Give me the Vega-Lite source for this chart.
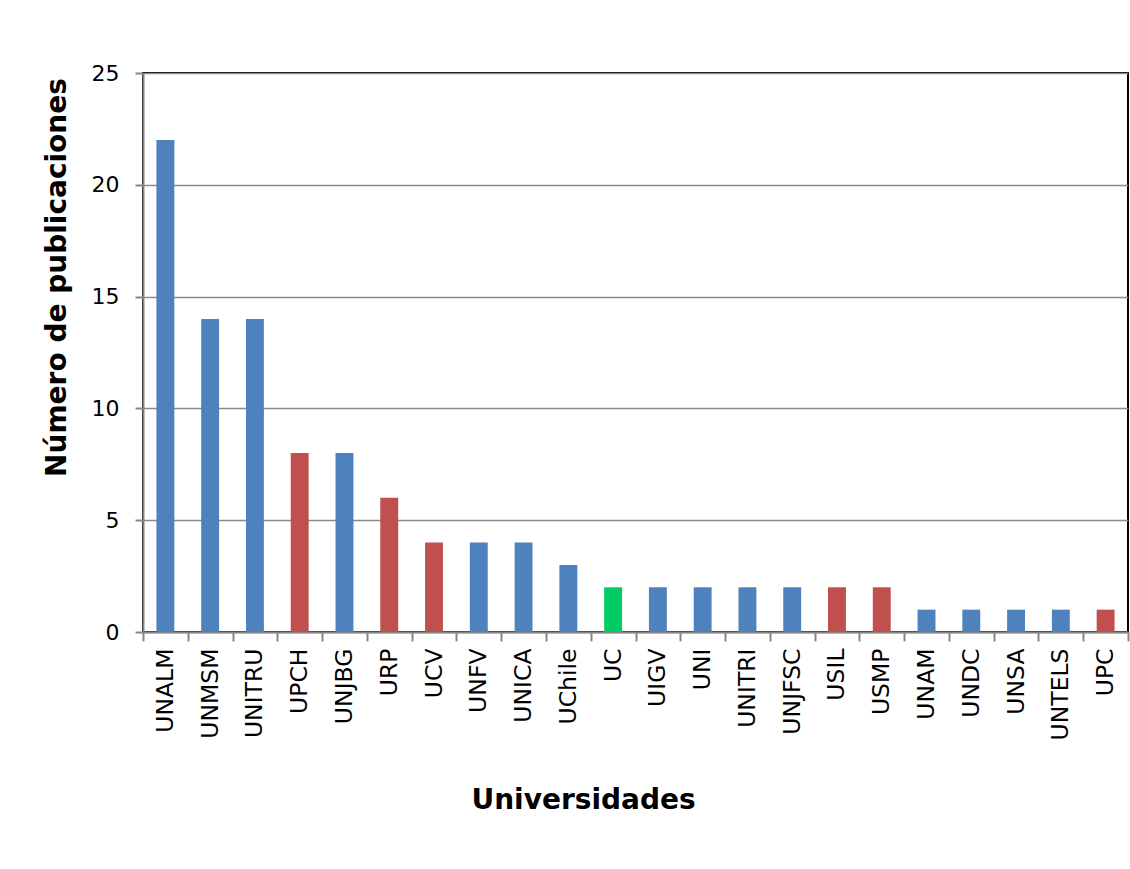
{
  "$schema": "https://vega.github.io/schema/vega-lite/v6.json",
  "autosize": "none",
  "width": 985,
  "height": 559,
  "padding": {"left": 143, "top": 73, "right": 2, "bottom": 237},
  "background": "white",
  "data": {
    "values": [
      {"universidad": "UNALM", "publicaciones": 22, "grupo": "A"},
      {"universidad": "UNMSM", "publicaciones": 14, "grupo": "A"},
      {"universidad": "UNITRU", "publicaciones": 14, "grupo": "A"},
      {"universidad": "UPCH", "publicaciones": 8, "grupo": "B"},
      {"universidad": "UNJBG", "publicaciones": 8, "grupo": "A"},
      {"universidad": "URP", "publicaciones": 6, "grupo": "B"},
      {"universidad": "UCV", "publicaciones": 4, "grupo": "B"},
      {"universidad": "UNFV", "publicaciones": 4, "grupo": "A"},
      {"universidad": "UNICA", "publicaciones": 4, "grupo": "A"},
      {"universidad": "UChile", "publicaciones": 3, "grupo": "A"},
      {"universidad": "UC", "publicaciones": 2, "grupo": "C"},
      {"universidad": "UIGV", "publicaciones": 2, "grupo": "A"},
      {"universidad": "UNI", "publicaciones": 2, "grupo": "A"},
      {"universidad": "UNITRI", "publicaciones": 2, "grupo": "A"},
      {"universidad": "UNJFSC", "publicaciones": 2, "grupo": "A"},
      {"universidad": "USIL", "publicaciones": 2, "grupo": "B"},
      {"universidad": "USMP", "publicaciones": 2, "grupo": "B"},
      {"universidad": "UNAM", "publicaciones": 1, "grupo": "A"},
      {"universidad": "UNDC", "publicaciones": 1, "grupo": "A"},
      {"universidad": "UNSA", "publicaciones": 1, "grupo": "A"},
      {"universidad": "UNTELS", "publicaciones": 1, "grupo": "A"},
      {"universidad": "UPC", "publicaciones": 1, "grupo": "B"}
    ]
  },
  "mark": {"type": "bar", "width": {"band": 0.4}},
  "encoding": {
    "x": {
      "field": "universidad",
      "type": "nominal",
      "sort": null,
      "scale": {"paddingInner": 0, "paddingOuter": 0},
      "axis": {
        "title": "Universidades",
        "titleFont": "DejaVu Sans",
        "titleFontSize": 28,
        "titleFontWeight": "bold",
        "titleColor": "black",
        "titleX": 440,
        "titleY": 168,
        "titleBaseline": "middle",
        "titleAlign": "center",
        "labelAngle": -90,
        "labelAlign": "right",
        "labelBaseline": "middle",
        "labelFont": "DejaVu Sans",
        "labelFontSize": 23.5,
        "labelColor": "black",
        "labelPadding": 7,
        "tickBand": "extent",
        "tickSize": 9,
        "tickColor": "#868686",
        "tickWidth": 2,
        "domainColor": "#868686",
        "domainWidth": 2,
        "grid": false
      }
    },
    "y": {
      "field": "publicaciones",
      "type": "quantitative",
      "scale": {"domain": [0, 25], "nice": false},
      "axis": {
        "title": "Número de publicaciones",
        "titleFont": "DejaVu Sans",
        "titleFontSize": 28,
        "titleFontWeight": "bold",
        "titleColor": "black",
        "titleAngle": -90,
        "titleX": -86,
        "titleY": 204,
        "titleBaseline": "middle",
        "titleAlign": "center",
        "values": [0, 5, 10, 15, 20, 25],
        "labelFont": "DejaVu Sans",
        "labelFontSize": 22,
        "labelColor": "black",
        "labelPadding": 16,
        "tickSize": 8,
        "tickColor": "#868686",
        "tickWidth": 2,
        "domainColor": "#868686",
        "domainWidth": 2,
        "grid": true,
        "gridColor": "#8a8a8a",
        "gridWidth": 1.5
      }
    },
    "color": {
      "field": "grupo",
      "type": "nominal",
      "scale": {"domain": ["A", "B", "C"], "range": ["#4F81BD", "#C0504D", "#00CC66"]},
      "legend": null
    }
  },
  "config": {
    "view": {"stroke": "black", "strokeWidth": 2}
  }
}
